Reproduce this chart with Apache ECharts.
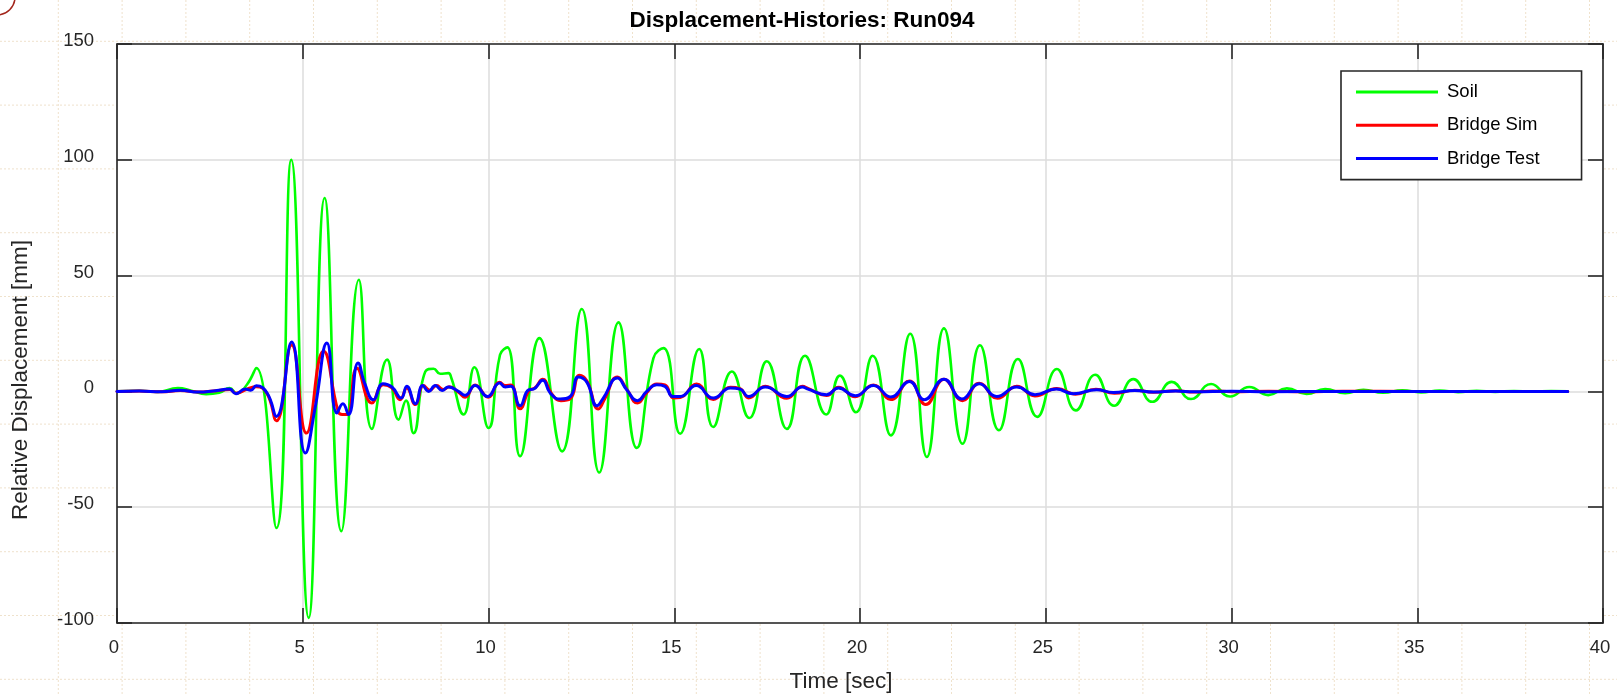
<!DOCTYPE html>
<html>
<head>
<meta charset="utf-8">
<title>Displacement-Histories: Run094</title>
<script src="https://cdn.jsdelivr.net/npm/echarts@6/dist/echarts.min.js"></script>
<style>
  html, body { margin: 0; padding: 0; background: #ffffff; }
  #chart { width: 1617px; height: 695px; }
</style>
</head>
<body>
<div id="chart"></div>
<script>
// Time ticks [sec] and displacement ticks [mm]
const timeTicks = [0, 5, 10, 15, 20, 25, 30, 35, 40];
const dispTicks = [-100, -50, 0, 50, 100, 150];

const seriesNames = ['Soil', 'Bridge Sim', 'Bridge Test'];

// Soil displacement history: [time sec, displacement mm] at turning points
const soilPoints = [
  [0, 0], [0.6, 0.3], [1.1, -0.2], [1.64, 1.4], [2.0, 0.3], [2.4, -1.2], [2.75, -0.6],
  [3.03, 1.4], [3.22, -0.8], [3.5, 3], [3.75, 10.1], [4.29, -59], [4.69, 100],
  [5.16, -97.8], [5.59, 83.5], [6.04, -60.4], [6.51, 48.2], [6.86, -16.2], [7.27, 13.7],
  [7.58, -12.2], [7.78, -4], [7.98, -18], [8.30, 8.6], [8.52, 9.8], [8.7, 7.6], [8.92, 7.9],
  [9.0, 5.8], [9.33, -10], [9.62, 10.4], [10.0, -15.8], [10.31, 15.8], [10.51, 19],
  [10.85, -28], [11.37, 23], [11.98, -25.9], [12.51, 35.6], [12.98, -35], [13.50, 29.8],
  [13.99, -24.4], [14.44, 14.4], [14.71, 18.7], [15.16, -18.3], [15.67, 18.3], [16.05, -15.4],
  [16.55, 8.6], [17.02, -11.5], [17.49, 13], [18.03, -16.2], [18.52, 15.4], [19.09, -10],
  [19.46, 6.8], [19.89, -9], [20.34, 15.4], [20.83, -19], [21.35, 24.9], [21.80, -28.3],
  [22.26, 27.2], [22.76, -22.6], [23.23, 19.9], [23.74, -16.8], [24.25, 14], [24.77, -11],
  [25.30, 9.7], [25.81, -8.2], [26.33, 7.2], [26.84, -6.2], [27.36, 5.3], [27.87, -4.5],
  [28.39, 4.1], [28.91, -3.3], [29.45, 3.2], [29.96, -2.2], [30.48, 1.9], [30.99, -1.6],
  [31.49, 1.3], [32.02, -1.1], [32.52, 1.0], [33.06, -0.8], [33.55, 0.7], [34.08, -0.6],
  [34.6, 0.5], [35.1, -0.4], [35.6, 0.4], [36.1, -0.3], [36.6, 0.3], [37.1, -0.2],
  [37.6, 0.2], [38.1, -0.1], [38.6, 0.1], [39.05, 0]
];

// Simulated bridge response
const bridgeSimPoints = [
  [0, 0], [0.6, 0.2], [1.2, -0.2], [1.7, 0.4], [2.2, -0.3], [2.6, 0.2], [3.03, 0.8],
  [3.2, -0.8], [3.5, 1], [3.75, 2], [4.04, -1], [4.29, -12.7], [4.70, 20], [5.10, -18],
  [5.56, 17.3], [5.95, -8.5], [6.06, -10], [6.2, -10], [6.46, 10], [6.86, -5], [7.17, 2.9],
  [7.4, 1.5], [7.62, -3.6], [7.8, 1.5], [8.03, -5.7], [8.25, 2.5], [8.42, 0.5], [8.6, 2.5],
  [8.78, 0.8], [8.95, 2], [9.2, -0.5], [9.37, -2.5], [9.64, 2.8], [9.99, -2.5], [10.3, 4],
  [10.45, 2.5], [10.6, 2.8], [10.85, -7.5], [11.1, 0.5], [11.25, 1.5], [11.46, 5.2],
  [11.7, -1], [11.95, -4], [12.2, -3.2], [12.45, 7], [12.65, 4.5], [12.96, -7.6],
  [13.12, -3.5], [13.47, 6.2], [13.72, 1], [14.01, -5], [14.26, -0.5], [14.53, 3.2],
  [14.75, 2.8], [14.98, -2.8], [15.16, -2.6], [15.6, 3.2], [16.05, -3.5], [16.51, 1.8],
  [16.77, 1.2], [17.0, -2.8], [17.45, 2.2], [18.03, -3], [18.45, 2.2], [18.6, 1.3],
  [19.1, -1.8], [19.42, 1.8], [19.87, -2.3], [20.36, 2.8], [20.83, -3.5], [21.33, 4.5],
  [21.77, -5.7], [22.26, 5.3], [22.76, -4], [23.21, 3.5], [23.7, -3], [24.22, 2.2],
  [24.71, -2], [25.3, 1.3], [25.8, -1.2], [26.35, 0.9], [26.85, -0.8], [27.4, 0.5],
  [27.9, -0.4], [28.5, 0.3], [29.0, -0.3], [29.5, 0.2], [30.0, -0.1], [31.0, 0.1],
  [32.0, -0.1], [33.0, 0.1], [35.0, 0], [39.05, 0]
];

// Measured bridge response
const bridgeTestPoints = [
  [0, 0], [0.6, 0.2], [1.2, -0.2], [1.7, 0.5], [2.2, -0.3], [2.6, 0.2], [3.03, 1],
  [3.2, -1], [3.45, 1], [3.6, 0.5], [3.75, 2.4], [4.04, -0.7], [4.29, -10.8], [4.70, 21.3],
  [5.07, -26.6], [5.34, -6.5], [5.65, 20.9], [5.92, -9.3], [6.08, -5.3], [6.23, -10],
  [6.49, 12.3], [6.68, 2.9], [6.9, -3.6], [7.16, 3.3], [7.4, 1.9], [7.65, -2.9], [7.8, 2.2],
  [8.03, -5.3], [8.23, 2.5], [8.39, 0], [8.57, 2.5], [8.75, 0.4], [8.92, 1.9], [9.19, 0],
  [9.37, -1.7], [9.64, 2.5], [9.97, -2.2], [10.30, 3.6], [10.45, 1.9], [10.6, 2.2],
  [10.85, -6.2], [11.08, 0.7], [11.21, 1], [11.46, 4.8], [11.66, -0.7], [11.93, -3.3],
  [12.2, -2.2], [12.42, 6.2], [12.65, 3.9], [12.92, -6.2], [13.09, -2.9], [13.47, 5.8],
  [13.72, 0.7], [14.01, -4], [14.26, 0], [14.53, 2.9], [14.75, 2.2], [14.96, -2.2],
  [15.16, -2.2], [15.59, 2.5], [16.05, -2.9], [16.51, 1.5], [16.77, 1], [17.0, -2.2],
  [17.45, 1.9], [18.03, -2.2], [18.45, 1.9], [18.6, 1], [19.1, -1.4], [19.42, 1.5],
  [19.87, -1.9], [20.36, 2.5], [20.83, -2.4], [21.33, 4.3], [21.73, -3.6], [22.26, 5.3],
  [22.74, -3.3], [23.21, 3.3], [23.68, -2.2], [24.22, 1.9], [24.71, -1.4], [25.28, 1],
  [25.74, -1], [26.37, 0.7], [26.82, -0.5], [27.4, 0.4], [27.9, -0.3], [28.5, 0.2],
  [29.0, -0.2], [30.0, 0.1], [31.0, -0.1], [33.0, 0], [39.05, 0]
];

const seriesColors = ['#00ff00', '#ff0000', '#0000ff'];
const seriesWidths = [2.6, 3, 3];

const FONT = '"Liberation Sans", Arial, Helvetica, sans-serif';
const INK = '#262626';

const chart = echarts.init(document.getElementById('chart'), null, { renderer: 'canvas' });

// Plot box geometry
const plot = { left: 117, top: 44, right: 1603, bottom: 623 };

// Engineering-paper backdrop behind the axes
const paper = [];
for (let x = 58.3; x < 1617; x += 63.8) {
  paper.push({ type: 'line', z: -10, silent: true,
    shape: { x1: x, y1: 0, x2: x, y2: 695 },
    style: { stroke: '#efe2cc', lineWidth: 1, lineDash: [2, 2] } });
}
for (let y = 41.3; y < 695; y += 63.8) {
  paper.push({ type: 'line', z: -10, silent: true,
    shape: { x1: 0, y1: y, x2: 1617, y2: y },
    style: { stroke: '#efe2cc', lineWidth: 1, lineDash: [2, 2] } });
}

const sideAxis = (extra) => Object.assign({
  type: 'value',
  axisLine: { show: true, onZero: false, lineStyle: { color: INK, width: 1.6 } },
  axisTick: { show: true, inside: true, length: 15, lineStyle: { color: INK, width: 1.6 } },
  axisLabel: { show: false },
  splitLine: { show: false }
}, extra);

const option = {
  backgroundColor: 'transparent',
  animation: false,
  grid: {
    left: plot.left, top: plot.top,
    width: plot.right - plot.left, height: plot.bottom - plot.top,
    show: true, backgroundColor: '#ffffff', borderWidth: 0, z: 0
  },
  legend: {
    orient: 'vertical',
    left: 1341, top: 71,
    padding: [11, 42, 11, 15],
    icon: 'rect',
    itemWidth: 82, itemHeight: 3, itemGap: 13.3,
    backgroundColor: '#ffffff',
    borderColor: INK, borderWidth: 1.6,
    textStyle: { fontFamily: FONT, fontSize: 18.5, color: '#000000', lineHeight: 20, padding: [0, 0, 0, 4] },
    data: seriesNames
  },
  xAxis: [
    sideAxis({
      min: timeTicks[0], max: timeTicks[timeTicks.length - 1], interval: 5,
      position: 'bottom',
      axisLabel: { show: true, margin: 15, fontFamily: FONT, fontSize: 18.5, color: INK, padding: [0, 6, 0, 0] },
      splitLine: { show: true, lineStyle: { color: '#dcdcdc', width: 1.5 } }
    }),
    sideAxis({ min: timeTicks[0], max: timeTicks[timeTicks.length - 1], interval: 5, position: 'top' })
  ],
  yAxis: [
    sideAxis({
      min: dispTicks[0], max: dispTicks[dispTicks.length - 1], interval: 50,
      position: 'left',
      axisLabel: { show: true, margin: 23, fontFamily: FONT, fontSize: 18.5, color: INK,
                   verticalAlign: 'bottom', lineHeight: 6 },
      splitLine: { show: true, lineStyle: { color: '#dcdcdc', width: 1.5 } }
    }),
    sideAxis({ min: dispTicks[0], max: dispTicks[dispTicks.length - 1], interval: 50, position: 'right' })
  ],
  series: [soilPoints, bridgeSimPoints, bridgeTestPoints].map((pts, i) => ({
    name: seriesNames[i],
    type: 'line',
    xAxisIndex: 0, yAxisIndex: 0,
    data: pts,
    smooth: 0.5,
    symbol: 'none', showSymbol: false,
    clip: true,
    z: 2 + i,
    lineStyle: { color: seriesColors[i], width: seriesWidths[i], join: 'round', cap: 'round' },
    itemStyle: { color: seriesColors[i] },
    emphasis: { disabled: true }
  })),
  graphic: paper.concat([
    { type: 'circle', silent: true, z: 5,
      shape: { cx: -3, cy: -3, r: 18 },
      style: { fill: 'none', stroke: '#a3261c', lineWidth: 1.5 } },
    { type: 'text', silent: true, z: 5, x: 802, y: 20.5,
      style: { text: 'Displacement-Histories: Run094', fontFamily: FONT, fontWeight: 'bold',
               fontSize: 22.5, fill: '#000000', align: 'center', verticalAlign: 'middle' } },
    { type: 'text', silent: true, z: 5, x: 841, y: 682,
      style: { text: 'Time [sec]', fontFamily: FONT, fontSize: 22.5, fill: INK,
               align: 'center', verticalAlign: 'middle' } },
    { type: 'text', silent: true, z: 5, x: 21, y: 380, rotation: Math.PI / 2,
      style: { text: 'Relative Displacement [mm]', fontFamily: FONT, fontSize: 22.5, fill: INK,
               align: 'center', verticalAlign: 'middle' } }
  ])
};

chart.setOption(option);
</script>
</body>
</html>
